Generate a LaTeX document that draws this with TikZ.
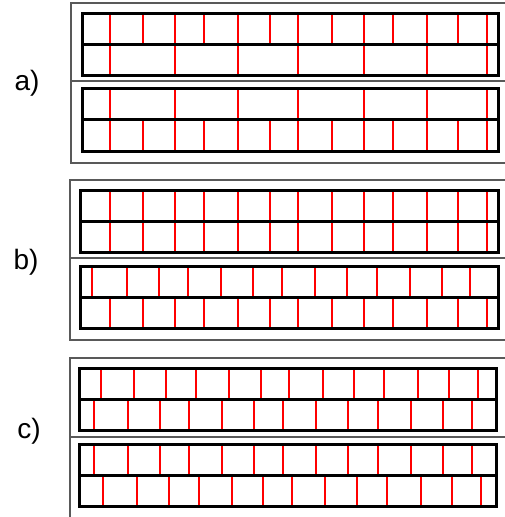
\documentclass[tikz,border=0pt]{standalone}
\usepackage{fontspec}
\setmainfont{Liberation Sans}
\begin{document}
\begin{tikzpicture}[x=1pt,y=-1pt,
  frame/.style={draw=black!65,line width=1.3pt},
  box/.style={draw=black,line width=3pt},
  tick/.style={draw=red,line width=2.3pt},
  lab/.style={font=\fontsize{28}{32}\selectfont,inner sep=0pt}]
\useasboundingbox (0,0) rectangle (505,517);
% outer frames
\draw[frame] (508,3) -- (71,3) -- (71,163) -- (508,163);
\draw[frame] (71,81) -- (508,81);
\draw[frame] (508,180) -- (70,180) -- (70,340) -- (508,340);
\draw[frame] (70,258) -- (508,258);
\draw[frame] (508,358) -- (70,358) -- (70,520);
\draw[frame] (70,437) -- (508,437);
% labels
\node[lab] (la) at (27,83) {a)};
\node[lab] (lb) at (26,262) {b)};
\node[lab] (lc) at (29,431) {c)};
% ticks panel a
\foreach \x in {110,143,175,204,238,270,298,332,364,393,427,458,487}{
  \draw[tick] (\x,13) -- (\x,44);
  \draw[tick] (\x,119) -- (\x,151);}
\foreach \x in {110,175,238,298,364,427,487}{
  \draw[tick] (\x,44) -- (\x,75);
  \draw[tick] (\x,88) -- (\x,119);}
% ticks panel b
\foreach \x in {110,143,175,204,238,270,298,332,364,393,427,458,487}{
  \draw[tick] (\x,190) -- (\x,252);
  \draw[tick] (\x,297) -- (\x,328);}
\foreach \x in {92,127,159,188,221,253,282,315,347,377,410,442,470}{
  \draw[tick] (\x,266) -- (\x,297);}
% ticks panel c
\foreach \x in {101,134,166,196,229,261,289,323,354,384,418,449,478}{
  \draw[tick] (\x,368) -- (\x,399);}
\foreach \x in {94,128,160,189,222,254,283,316,348,378,411,443,472}{
  \draw[tick] (\x,399) -- (\x,430);
  \draw[tick] (\x,444) -- (\x,475);}
\foreach \x in {103,137,169,199,232,263,292,325,357,387,421,452,481}{
  \draw[tick] (\x,475) -- (\x,506);}
% boxes
\draw[box] (82,13) rectangle (498,75); \draw[box] (82,44) -- (498,44);
\draw[box] (82,88) rectangle (498,151); \draw[box] (82,119) -- (498,119);
\draw[box] (80,190) rectangle (498,252); \draw[box] (80,221) -- (498,221);
\draw[box] (80,266) rectangle (498,328); \draw[box] (80,297) -- (498,297);
\draw[box] (79,368) rectangle (496,430); \draw[box] (79,399) -- (496,399);
\draw[box] (79,444) rectangle (496,506); \draw[box] (79,475) -- (496,475);
\end{tikzpicture}
\end{document}
